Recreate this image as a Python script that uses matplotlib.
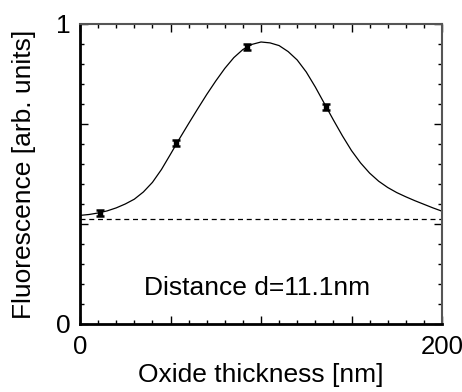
import matplotlib
matplotlib.use("Agg")
import matplotlib.pyplot as plt
from matplotlib.ticker import MultipleLocator, FixedLocator

plt.rcParams["font.family"] = ["Liberation Sans", "DejaVu Sans"]

# fitted curve (every 5 nm)
curve_x = [0, 5, 10, 15, 20, 25, 30, 35, 40, 45, 50, 55, 60, 65, 70, 75, 80, 85, 90, 95, 100,
           105, 110, 115, 120, 125, 130, 135, 140, 145, 150, 155, 160, 165, 170, 175, 180,
           185, 190, 195, 200]
curve_y = [0.362, 0.365, 0.370, 0.377, 0.387, 0.400, 0.416, 0.440, 0.472, 0.515, 0.566,
           0.618, 0.668, 0.717, 0.765, 0.810, 0.852, 0.888, 0.915, 0.932, 0.940,
           0.937, 0.928, 0.908, 0.880, 0.840, 0.790, 0.735, 0.680, 0.627, 0.578,
           0.537, 0.503, 0.476, 0.455, 0.438, 0.424, 0.411, 0.399, 0.387, 0.376]

# measured points
meas_x = [11, 53, 92, 136]
meas_y = [0.370, 0.604, 0.924, 0.722]
meas_err = [0.010, 0.010, 0.010, 0.010]

background = 0.35
label_text = "Distance d=11.1nm"

fig = plt.figure(figsize=(4.62, 3.92), dpi=100)
ax = fig.add_axes([0.1732, 0.1735, 0.9567 - 0.1732, 0.9388 - 0.1735])

ax.plot(curve_x, curve_y, color="k", lw=0.9)
ax.axhline(background, color="k", lw=0.9, ls=(0, (4, 3)))
ax.errorbar(meas_x, meas_y, yerr=meas_err, fmt="s", ms=3, color="k",
            ecolor="k", elinewidth=2.2, capsize=3, capthick=1.8)

ax.text(98, 0.12, label_text, ha="center", va="center", fontsize=19)

ax.set_xlim(0, 200)
ax.set_ylim(0, 1)
ax.xaxis.set_major_locator(FixedLocator([0, 50, 100, 150, 200]))
ax.set_xticklabels(["0", "", "", "", "200"])
ax.xaxis.set_minor_locator(MultipleLocator(10))
ax.yaxis.set_major_locator(FixedLocator([0, 1 / 3, 2 / 3, 1]))
ax.set_yticklabels(["0", "", "", "1"])
ax.yaxis.set_minor_locator(MultipleLocator(1 / 15))

ax.tick_params(which="both", direction="in", top=True, right=True, labelsize=19)
ax.tick_params(which="major", length=6, width=1)
ax.tick_params(which="minor", length=3, width=1)
ax.tick_params(axis="x", pad=8, labelsize=18.5)
ax.tick_params(axis="y", pad=7)

for side in ["left", "bottom"]:
    ax.spines[side].set_linewidth(2)
for side in ["top", "right"]:
    ax.spines[side].set_linewidth(1.5)
    ax.spines[side].set_color("#555555")

ax.set_xlabel("Oxide thickness [nm]", fontsize=19, labelpad=3)
ax.set_ylabel("Fluorescence [arb. units]", fontsize=19, labelpad=14)

fig.savefig("out.png", dpi=100)
